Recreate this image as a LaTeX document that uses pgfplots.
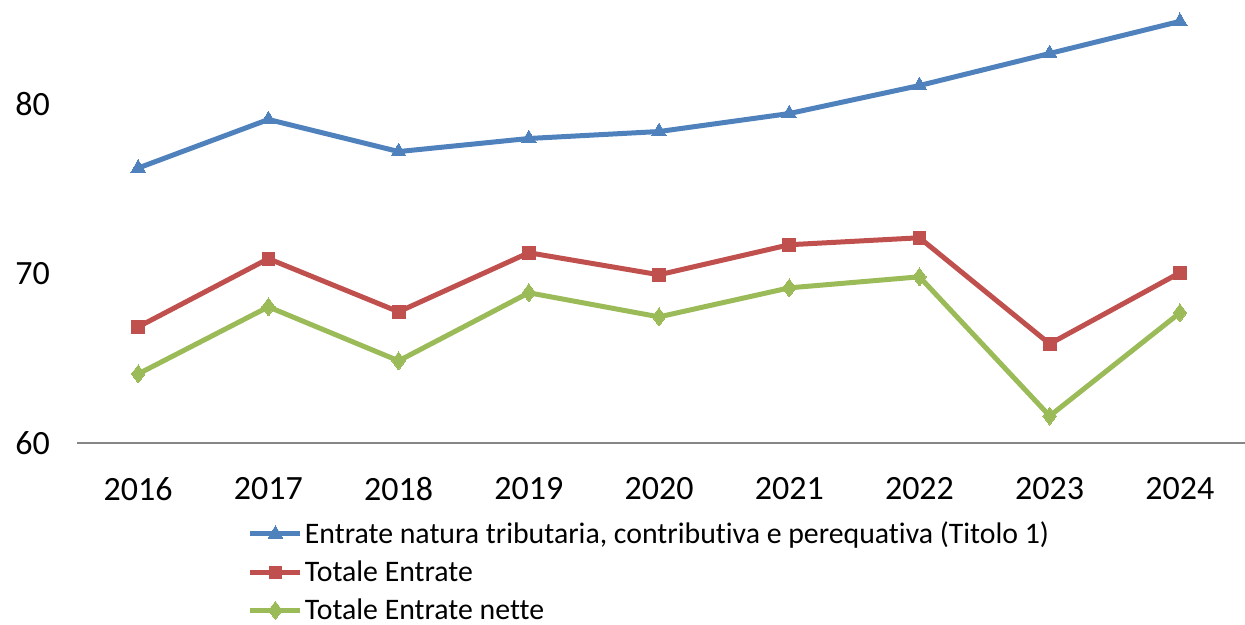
\documentclass[border=0pt]{standalone}
\usepackage{pgfplots}
\pgfplotsset{compat=1.18}
\usepackage{fontspec}
\setmainfont{Carlito}[Ligatures=NoCommon]
\usetikzlibrary{calc}
\definecolor{cblue}{HTML}{4F81BD}
\definecolor{cred}{HTML}{C0504D}
\definecolor{cgreen}{HTML}{9BBB59}
\definecolor{caxis}{HTML}{868686}
\begin{document}
\begin{tikzpicture}
\begin{axis}[
    name=main,
    scale only axis,
    width=584pt, height=221.5pt,
    xmin=-0.47, xmax=8.5,
    ymin=60, ymax=86.1,
    axis x line*=bottom,
    axis y line*=left,
    y axis line style={draw=none},
    x axis line style={caxis, line width=0.75pt, -},
    xtick={0,...,8},
    xticklabels={2016,2017,2018,2019,2020,2021,2022,2023,2024},
    ytick={60,70,80},
    major tick length=0pt,
    tick style={draw=none},
    ticklabel style={font=\fontsize{17}{19}\selectfont},
    /pgf/number format/assume math mode=true,
    xticklabel style={yshift=-13.5pt},
    yticklabel style={xshift=-10pt},
    every axis plot/.append style={line width=2.5pt},
    legend style={
        at={(0.146,-0.172)}, anchor=north west,
        draw=none, fill=none,
        font=\fontsize{14.9}{17}\selectfont,
        row sep=5.1pt, inner sep=0pt,
        nodes={inner sep=1pt},
    },
    legend cell align=left,
    legend image code/.code={
        \draw[mark repeat=2,mark phase=2] plot coordinates {(0pt,0pt)(12.5pt,0pt)(25pt,0pt)};
    },
]
\addplot[cblue, mark=triangle*, mark size=4.2pt, mark options={solid, line width=0pt}] coordinates {
(0,76.2) (1,79.06) (2,77.17) (3,77.94) (4,78.35) (5,79.41) (6,81.06) (7,82.95) (8,84.84)};
\addlegendentry{Entrate natura tributaria, contributiva e perequativa (Titolo 1)}
\addplot[cred, mark=square*, mark size=3.2pt, mark options={solid, line width=0pt}] coordinates {
(0,66.84) (1,70.86) (2,67.73) (3,71.21) (4,69.91) (5,71.68) (6,72.09) (7,65.84) (8,70.03)};
\addlegendentry{Totale Entrate}
\addplot[cgreen, mark=diamond*, mark size=4.5pt, mark options={solid, line width=0pt}] coordinates {
(0,64.07) (1,68.02) (2,64.84) (3,68.85) (4,67.43) (5,69.14) (6,69.79) (7,61.59) (8,67.67)};
\addlegendentry{Totale Entrate nette}
\end{axis}
\pgfresetboundingbox
\path ($(main.south west)+(-38.5pt,-91pt)$) rectangle (main.north east);
\end{tikzpicture}
\end{document}
